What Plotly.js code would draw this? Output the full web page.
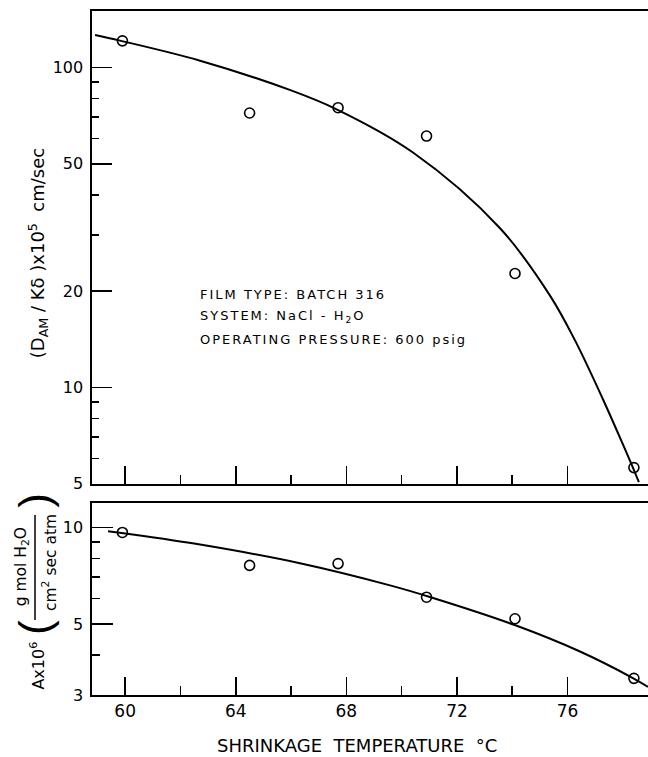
<!DOCTYPE html>
<html>
<head>
<meta charset="utf-8">
<script src="https://cdn.plot.ly/plotly-3.0.1.min.js"></script>
<style>
html,body{margin:0;padding:0;background:#fff;}
#chart{width:648px;height:757px;}
.annotation[data-index="7"] text,
.annotation[data-index="8"] text,
.annotation[data-index="9"] text{letter-spacing:2px;}
</style>
</head>
<body>
<div id="chart"></div>
<script>
// Measured data points (shrinkage temperature, °C)
const temps = [59.9, 64.5, 67.7, 70.9, 74.1, 78.4];
const dValues = [121, 72, 74.8, 61, 22.7, 5.62];
const aValues = [9.66, 7.62, 7.72, 6.06, 5.19, 3.38];
// Smoothed curves
const dCurveT = [58.91, 59.81, 62.71, 66.00, 67.61, 70.41, 73.55, 75.36, 76.27, 77.28, 78.00, 78.33, 78.58];
const dCurve = [126.2, 121.2, 104.9, 84.7, 74.2, 54.2, 31.5, 19.4, 14.03, 9.19, 6.65, 5.71, 5.06];
const aCurveT = [59.38, 59.87, 62.71, 66.32, 69.58, 71.02, 74.09, 76.45, 78.33, 78.91];
const aCurve = [9.75, 9.62, 8.85, 7.74, 6.60, 6.07, 4.96, 4.10, 3.40, 3.18];
// Tick labels
const xTicks = [60, 64, 68, 72, 76];
const xMinorTicks = [62, 66, 70, 74];
const dTicks = [5, 10, 20, 50, 100];
const dMinorTicks = [6, 7, 8, 9, 30, 40, 60, 70, 80, 90];
const aTicks = [3, 5, 10];
const aMinorTicks = [4, 6, 7, 8, 9];

const FONT = 'DejaVu Sans, sans-serif';
const ink = '#000';

const traces = [
  {x: dCurveT, y: dCurve, xaxis: 'x2', yaxis: 'y2', mode: 'lines',
   line: {color: ink, width: 2, shape: 'spline', smoothing: 1}, hoverinfo: 'skip'},
  {x: temps, y: dValues, xaxis: 'x2', yaxis: 'y2', mode: 'markers',
   marker: {symbol: 'circle-open', size: 10, color: ink, line: {width: 1.6, color: ink}}},
  {x: aCurveT, y: aCurve, xaxis: 'x', yaxis: 'y', mode: 'lines',
   line: {color: ink, width: 2, shape: 'spline', smoothing: 1}, hoverinfo: 'skip'},
  {x: temps, y: aValues, xaxis: 'x', yaxis: 'y', mode: 'markers',
   marker: {symbol: 'circle-open', size: 10, color: ink, line: {width: 1.6, color: ink}}}
];

const xRange = [58.8, 78.91];
function xAxisBase(showLabels) {
  return {
    range: xRange, showline: true, linecolor: ink, linewidth: 1.6, mirror: true,
    showgrid: false, zeroline: false, ticks: 'inside', ticklen: 18, tickwidth: 1.6, tickcolor: ink,
    tickmode: 'array', tickvals: xTicks, ticktext: xTicks.map(String),
    showticklabels: showLabels,
    tickfont: {family: FONT, size: 17, color: ink},
    minor: {tickmode: 'array', tickvals: xMinorTicks, ticks: 'inside', ticklen: 9, tickwidth: 1.6, tickcolor: ink}
  };
}

const layout = {
  width: 648, height: 757,
  margin: {l: 92, r: 0, t: 11, b: 62},
  paper_bgcolor: '#fff', plot_bgcolor: '#fff',
  showlegend: false,
  font: {family: FONT, color: ink},
  xaxis: Object.assign(xAxisBase(true), {anchor: 'y', domain: [0, 1]}),
  xaxis2: Object.assign(xAxisBase(false), {anchor: 'y2', domain: [0, 1]}),
  yaxis: {
    type: 'log', domain: [0, 0.2807], range: [Math.log10(2.998), 1.077],
    showline: true, linecolor: ink, linewidth: 1.6, showgrid: false, zeroline: false,
    ticks: 'inside', ticklen: 21, tickwidth: 1.6, tickcolor: ink,
    tickmode: 'array', tickvals: aTicks, ticktext: aTicks.map(String),
    tickfont: {family: FONT, size: 16, color: ink}, ticklabelstandoff: 4,
    minor: {tickmode: 'array', tickvals: aMinorTicks, ticks: 'inside', ticklen: 8, tickwidth: 1.6, tickcolor: ink}
  },
  yaxis2: {
    type: 'log', domain: [0.3085, 1], range: [Math.log10(4.995), 2.176],
    showline: true, linecolor: ink, linewidth: 1.6, showgrid: false, zeroline: false,
    ticks: 'inside', ticklen: 20, tickwidth: 1.6, tickcolor: ink,
    tickmode: 'array', tickvals: dTicks, ticktext: dTicks.map(String),
    tickfont: {family: FONT, size: 16, color: ink}, ticklabelstandoff: 4,
    minor: {tickmode: 'array', tickvals: dMinorTicks, ticks: 'inside', ticklen: 7, tickwidth: 1.6, tickcolor: ink}
  },
  annotations: [
    {xref: 'paper', yref: 'paper', x: 0.4766, y: -0.074, xanchor: 'center', yanchor: 'middle', showarrow: false,
     text: 'SHRINKAGE  TEMPERATURE  °C', font: {family: FONT, size: 18, color: ink}},
    {xref: 'paper', yref: 'paper', x: -0.0971, y: 0.646, xanchor: 'center', yanchor: 'middle', showarrow: false,
     textangle: -90, text: '(D<sub>AM</sub> / Kδ )x10<sup>5</sup>  cm/sec', font: {family: FONT, size: 18, color: ink}},
    {xref: 'paper', yref: 'paper', x: -0.0971, y: 0.043, xanchor: 'center', yanchor: 'middle', showarrow: false,
     textangle: -90, text: 'Ax10<sup>6</sup>', font: {family: FONT, size: 16, color: ink}},
    {xref: 'paper', yref: 'paper', x: -0.1025, y: 0.098, xanchor: 'center', yanchor: 'middle', showarrow: false,
     textangle: -90, text: '(', font: {family: 'Liberation Sans, sans-serif', size: 44, color: ink}},
    {xref: 'paper', yref: 'paper', x: -0.1025, y: 0.284, xanchor: 'center', yanchor: 'middle', showarrow: false,
     textangle: -90, text: ')', font: {family: 'Liberation Sans, sans-serif', size: 44, color: ink}},
    {xref: 'paper', yref: 'paper', x: -0.126, y: 0.188, xanchor: 'center', yanchor: 'middle', showarrow: false,
     textangle: -90, text: 'g mol H<sub>2</sub>O', font: {family: FONT, size: 15.5, color: ink}},
    {xref: 'paper', yref: 'paper', x: -0.076, y: 0.194, xanchor: 'center', yanchor: 'middle', showarrow: false,
     textangle: -90, text: 'cm<sup>2</sup> sec atm', font: {family: FONT, size: 15.5, color: ink}},
    {xref: 'paper', yref: 'paper', x: 0.190, y: 0.586, xanchor: 'left', yanchor: 'middle', align: 'left', showarrow: false,
     text: 'FILM TYPE: BATCH 316', font: {family: FONT, size: 13, color: ink}},
    {xref: 'paper', yref: 'paper', x: 0.190, y: 0.553, xanchor: 'left', yanchor: 'middle', align: 'left', showarrow: false,
     text: 'SYSTEM: NaCl - H<sub>2</sub>O', font: {family: FONT, size: 13, color: ink}},
    {xref: 'paper', yref: 'paper', x: 0.190, y: 0.520, xanchor: 'left', yanchor: 'middle', align: 'left', showarrow: false,
     text: 'OPERATING PRESSURE: 600 psig', font: {family: FONT, size: 13, color: ink}}
  ],
  shapes: [
    {type: 'line', xref: 'paper', yref: 'paper', x0: -0.1025, x1: -0.1025, y0: 0.1096, y1: 0.263,
     line: {color: ink, width: 1.5}}
  ]
};

Plotly.newPlot('chart', traces, layout, {displayModeBar: false, staticPlot: true});
</script>
</body>
</html>
